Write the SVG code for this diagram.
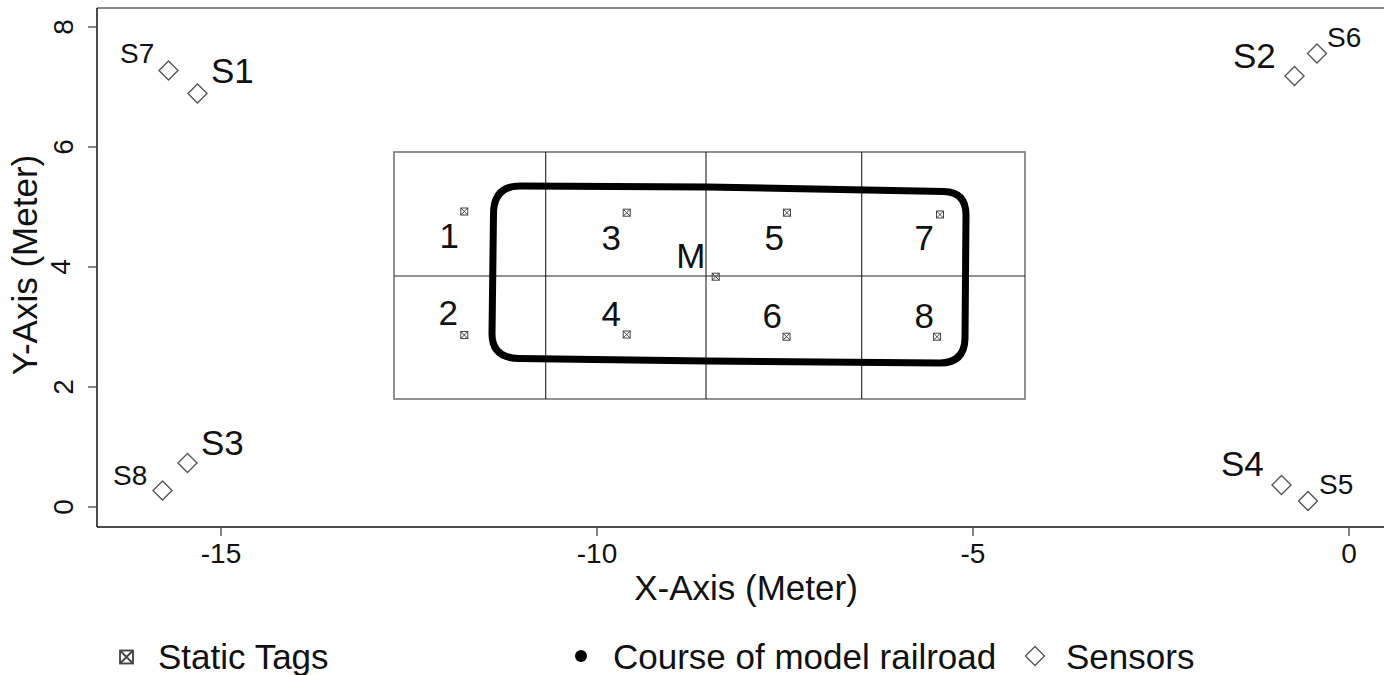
<svg xmlns="http://www.w3.org/2000/svg" width="1384" height="675" viewBox="0 0 1384 675">
  <style>
    text { font-family: "Liberation Sans", Arial, sans-serif; fill: #111; }
    .tick { font-size: 28px; }
    .title { font-size: 35px; }
    .big { font-size: 35px; }
    .small { font-size: 28px; }
    .axis { stroke: #111; stroke-width: 1.5; fill: none; }
    .tk { stroke: #444; stroke-width: 1.3; }
    .cellout { fill: none; stroke: #777; stroke-width: 1.6; }
    .cellin { stroke: #222; stroke-width: 1.1; }
    .sensor { fill: none; stroke: #555; stroke-width: 1.4; }
    .tag { fill: none; stroke: #444; stroke-width: 1; }
    .track { fill: none; stroke: #000; stroke-width: 7; stroke-linejoin: round; stroke-linecap: round; }
  </style>
  <defs>
    <!-- square-with-cross point symbol for static tags -->
    <g id="tagsym">
      <rect x="-3.5" y="-3.5" width="7" height="7"/>
      <path d="M-3.5,-3.5 L3.5,3.5 M3.5,-3.5 L-3.5,3.5"/>
    </g>
    <!-- open diamond point symbol for sensors -->
    <path id="diamond" d="M0,-9.5 L9.5,0 L0,9.5 L-9.5,0 Z"/>
  </defs>

  <rect width="1384" height="675" fill="#fff"/>

  <!-- axes frame -->
  <g id="axes">
    <line x1="97" y1="8" x2="1384" y2="8" stroke="#888" stroke-width="2"/>
    <line class="axis" x1="97" y1="8" x2="97" y2="527"/>
    <line class="axis" x1="97" y1="527" x2="1384" y2="527"/>
    <!-- y ticks -->
    <g class="tk">
      <line x1="88" y1="27" x2="97" y2="27"/>
      <line x1="88" y1="147" x2="97" y2="147"/>
      <line x1="88" y1="267" x2="97" y2="267"/>
      <line x1="88" y1="387" x2="97" y2="387"/>
      <line x1="88" y1="507" x2="97" y2="507"/>
      <!-- x ticks -->
      <line x1="221" y1="527" x2="221" y2="536"/>
      <line x1="597" y1="527" x2="597" y2="536"/>
      <line x1="973" y1="527" x2="973" y2="536"/>
      <line x1="1349" y1="527" x2="1349" y2="536"/>
    </g>
    <g class="tick" text-anchor="middle">
      <text transform="translate(73,27) rotate(-90)">8</text>
      <text transform="translate(73,147) rotate(-90)">6</text>
      <text transform="translate(70,267) rotate(-90)">4</text>
      <text transform="translate(73,387) rotate(-90)">2</text>
      <text transform="translate(73,507) rotate(-90)">0</text>
      <text x="221" y="563">-15</text>
      <text x="597" y="563">-10</text>
      <text x="973" y="563">-5</text>
      <text x="1349" y="563">0</text>
    </g>
    <text class="title" x="746" y="600" text-anchor="middle">X-Axis (Meter)</text>
    <text class="title" transform="translate(37,265) rotate(-90)" text-anchor="middle">Y-Axis (Meter)</text>
  </g>

  <!-- floor grid of eight cells -->
  <g id="grid">
    <rect class="cellout" x="394" y="152" width="631" height="247"/>
    <line class="cellin" x1="545.7" y1="152" x2="545.7" y2="399"/>
    <line class="cellin" x1="706" y1="152" x2="706" y2="399"/>
    <line class="cellin" x1="861.7" y1="152" x2="861.7" y2="399"/>
    <line class="cellin" x1="394" y1="276" x2="1025" y2="276"/>
  </g>

  <!-- course of the model railroad -->
  <g id="connectors">
    <path id="track" class="track" d="M493.5,214 Q493.5,186 520,186 L707,187 L944,191.5 Q966,192 966,215 L965,339 Q964,363 940,363 L707,361 L519,358.5 Q492,358 492,334 Z"/>
  </g>

  <!-- static tags -->
  <g id="tags" class="tag">
    <g id="tag1"><use href="#tagsym" x="464.3" y="211.5"/><text class="big" x="459" y="248" text-anchor="end" stroke="none">1</text></g>
    <g id="tag2"><use href="#tagsym" x="464.3" y="335"/><text class="big" x="458" y="325" text-anchor="end" stroke="none">2</text></g>
    <g id="tag3"><use href="#tagsym" x="626.7" y="212.7"/><text class="big" x="621" y="250" text-anchor="end" stroke="none">3</text></g>
    <g id="tag4"><use href="#tagsym" x="626.7" y="334.5"/><text class="big" x="621" y="326" text-anchor="end" stroke="none">4</text></g>
    <g id="tagM"><use href="#tagsym" x="715.7" y="276.7"/><text class="big" x="705.5" y="268" text-anchor="end" stroke="none">M</text></g>
    <g id="tag5"><use href="#tagsym" x="787" y="212.7"/><text class="big" x="784" y="250" text-anchor="end" stroke="none">5</text></g>
    <g id="tag6"><use href="#tagsym" x="786.5" y="336.7"/><text class="big" x="782" y="328" text-anchor="end" stroke="none">6</text></g>
    <g id="tag7"><use href="#tagsym" x="940" y="214.5"/><text class="big" x="934" y="250" text-anchor="end" stroke="none">7</text></g>
    <g id="tag8"><use href="#tagsym" x="937" y="336.7"/><text class="big" x="934" y="328" text-anchor="end" stroke="none">8</text></g>
  </g>

  <!-- sensors -->
  <g id="sensors">
    <g id="S7"><use href="#diamond" class="sensor" x="168.5" y="70.5"/><text class="small" x="120" y="63">S7</text></g>
    <g id="S1"><use href="#diamond" class="sensor" x="197.5" y="93.5"/><text class="big" x="211" y="83">S1</text></g>
    <g id="S2"><use href="#diamond" class="sensor" x="1294.5" y="76"/><text class="big" x="1233" y="68">S2</text></g>
    <g id="S6"><use href="#diamond" class="sensor" x="1317" y="53.5"/><text class="small" x="1327" y="47">S6</text></g>
    <g id="S3"><use href="#diamond" class="sensor" x="187.5" y="463"/><text class="big" x="201" y="455">S3</text></g>
    <g id="S8"><use href="#diamond" class="sensor" x="162.5" y="490.5"/><text class="small" x="113" y="485">S8</text></g>
    <g id="S4"><use href="#diamond" class="sensor" x="1281.5" y="485"/><text class="big" x="1221" y="476">S4</text></g>
    <g id="S5"><use href="#diamond" class="sensor" x="1308" y="501"/><text class="small" x="1319" y="494">S5</text></g>
  </g>

  <!-- legend -->
  <g id="legend">
    <g class="tag" transform="translate(126.5,657) scale(1.85)" stroke-width="0.7"><use href="#tagsym"/></g>
    <text class="big" x="158" y="669">Static Tags</text>
    <circle cx="581" cy="656" r="6" fill="#000"/>
    <text class="big" x="613" y="669">Course of model railroad</text>
    <use href="#diamond" class="sensor" x="1035" y="656"/>
    <text class="big" x="1066" y="669">Sensors</text>
  </g>
</svg>
